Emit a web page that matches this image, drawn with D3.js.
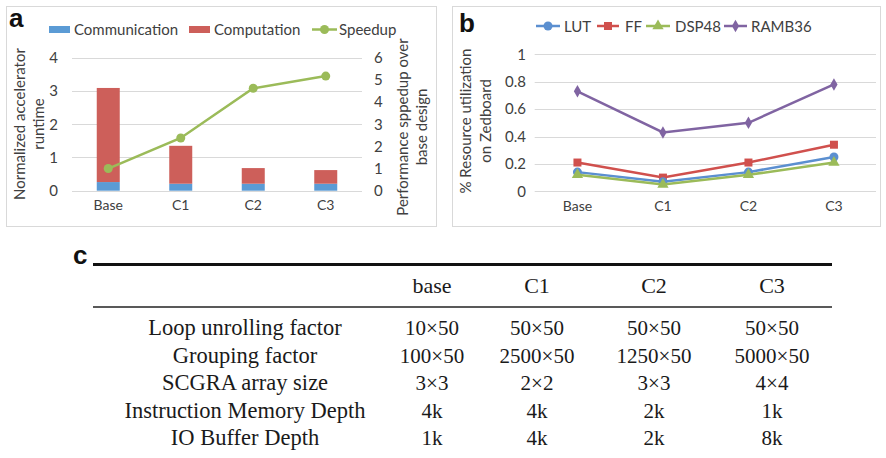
<!DOCTYPE html>
<html>
<head>
<meta charset="utf-8">
<script src="https://cdn.jsdelivr.net/npm/d3@7/dist/d3.min.js"></script>
<style>
  html, body { margin: 0; padding: 0; background: #fff; }
  svg { display: block; }
</style>
</head>
<body>
<svg id="fig" width="886" height="458"></svg>
<script>
// ---- data ----
const categories = ["Base", "C1", "C2", "C3"];
const communication = [0.26, 0.21, 0.21, 0.21];
const computation = [2.83, 1.14, 0.47, 0.41];
const speedup = [1.0, 2.38, 4.62, 5.17];
const runtimeTicks = [0, 1, 2, 3, 4];
const speedupTicks = [0, 1, 2, 3, 4, 5, 6];

const lut = [0.14, 0.07, 0.14, 0.25];
const ff = [0.21, 0.10, 0.21, 0.34];
const dsp48 = [0.12, 0.05, 0.12, 0.21];
const ramb36 = [0.73, 0.43, 0.50, 0.78];
const utilTicks = [0, 0.2, 0.4, 0.6, 0.8, 1];

const tableCols = ["base", "C1", "C2", "C3"];
const tableRowLabels = ["Loop unrolling factor", "Grouping factor", "SCGRA array size",
  "Instruction Memory Depth", "IO Buffer Depth"];
const loopUnrolling = ["10×50", "50×50", "50×50", "50×50"];
const grouping = ["100×50", "2500×50", "1250×50", "5000×50"];
const arraySize = ["3×3", "2×2", "3×3", "4×4"];
const instrDepth = ["4k", "4k", "2k", "1k"];
const ioDepth = ["1k", "4k", "2k", "8k"];

// ---- styles ----
const TXT = "#404040", GRID = "#d9d9d9";
const FONT = "Lato, 'Liberation Sans', sans-serif";
const C_BLUE = "#5b9bd5", C_RED = "#cd5f5a", C_GREEN = "#9bbb59", C_PURPLE = "#8064a2", C_FF = "#d0504d", C_LUT = "#5b8fd0";

const svg = d3.select("#fig");

function panelFrame(x0, y0, x1, y1) {
  svg.append("rect").attr("x", x0 + 0.5).attr("y", y0 + 0.5)
    .attr("width", x1 - x0).attr("height", y1 - y0)
    .attr("fill", "#fff").attr("stroke", GRID).attr("stroke-width", 1);
}

function panelLetter(x, y, t) {
  svg.append("text").attr("x", x).attr("y", y).text(t)
    .attr("font-family", "'Liberation Sans', Arial, sans-serif")
    .attr("font-weight", "bold").attr("font-size", 26).attr("fill", "#111");
}

function gridlines(g, y, ticks, x0, x1) {
  g.append("g").selectAll("line").data(ticks).join("line")
    .attr("x1", x0).attr("x2", x1)
    .attr("y1", d => Math.round(y(d)) + 0.5).attr("y2", d => Math.round(y(d)) + 0.5)
    .attr("stroke", GRID).attr("stroke-width", 1);
}

function styleAxis(sel, size) {
  sel.select(".domain").remove();
  sel.selectAll("text").attr("fill", TXT).attr("font-family", FONT).attr("font-size", size);
}

// ================= panel a =================
panelFrame(6, 6, 436, 226);
panelLetter(9, 27, "a");

const xa = d3.scaleBand().domain(categories).range([72, 362]);
const ya = d3.scaleLinear().domain([0, 4]).range([190.7, 57.7]);
const ys = d3.scaleLinear().domain([0, 6]).range([190.7, 57.7]);
const ga = svg.append("g");

gridlines(ga, ya, runtimeTicks, 72, 362);

const barW = 23;
const stackData = categories.map((c, i) => ({ c, comm: communication[i], comp: computation[i] }));
ga.append("g").selectAll("rect").data(stackData).join("rect")
  .attr("x", d => xa(d.c) + xa.bandwidth() / 2 - barW / 2).attr("width", barW)
  .attr("y", d => ya(d.comm)).attr("height", d => ya(0) - ya(d.comm))
  .attr("fill", C_BLUE);
ga.append("g").selectAll("rect").data(stackData).join("rect")
  .attr("x", d => xa(d.c) + xa.bandwidth() / 2 - barW / 2).attr("width", barW)
  .attr("y", d => ya(d.comm + d.comp)).attr("height", d => ya(d.comm) - ya(d.comm + d.comp))
  .attr("fill", C_RED);

const spd = categories.map((c, i) => ({ c, v: speedup[i] }));
ga.append("path").datum(spd)
  .attr("d", d3.line().x(d => xa(d.c) + xa.bandwidth() / 2).y(d => ys(d.v)))
  .attr("fill", "none").attr("stroke", C_GREEN).attr("stroke-width", 2.5);
ga.append("g").selectAll("circle").data(spd).join("circle")
  .attr("cx", d => xa(d.c) + xa.bandwidth() / 2).attr("cy", d => ys(d.v))
  .attr("r", 4.5).attr("fill", C_GREEN);

ga.append("g").attr("transform", "translate(58,0)")
  .call(d3.axisLeft(ya).tickValues(runtimeTicks).tickSize(0).tickPadding(0).tickFormat(d3.format("d")))
  .call(s => styleAxis(s, 15));
ga.append("g").attr("transform", "translate(374,0)")
  .call(d3.axisRight(ys).tickValues(speedupTicks).tickSize(0).tickPadding(0).tickFormat(d3.format("d")))
  .call(s => styleAxis(s, 15));
ga.append("g").attr("transform", "translate(0,200)")
  .call(d3.axisBottom(xa).tickSize(0).tickPadding(0))
  .call(s => styleAxis(s, 14));

// axis titles
function vTitle(g, x, y, lines, gap) {
  const t = g.append("text").attr("transform", `translate(${x},${y}) rotate(-90)`)
    .attr("text-anchor", "middle").attr("fill", TXT).attr("font-family", FONT).attr("font-size", 15);
  lines.forEach((l, i) => t.append("tspan").attr("x", 0).attr("dy", i === 0 ? 0 : gap).text(l));
}
vTitle(ga, 25, 124, ["Normalized accelerator", "runtime"], 19);
vTitle(ga, 408, 127, ["Performance sppedup over", "base design"], 19);

// legend a
const legA = ga.append("g").attr("font-family", FONT).attr("font-size", 15).attr("fill", TXT);
legA.append("rect").attr("x", 49).attr("y", 26).attr("width", 21).attr("height", 7).attr("fill", C_BLUE);
legA.append("text").attr("x", 74).attr("y", 34.5).text("Communication");
legA.append("rect").attr("x", 189).attr("y", 26).attr("width", 21).attr("height", 7).attr("fill", C_RED);
legA.append("text").attr("x", 214).attr("y", 34.5).text("Computation");
legA.append("line").attr("x1", 312).attr("x2", 337).attr("y1", 29.5).attr("y2", 29.5)
  .attr("stroke", C_GREEN).attr("stroke-width", 2.5);
legA.append("circle").attr("cx", 324.5).attr("cy", 29.5).attr("r", 4.5).attr("fill", C_GREEN);
legA.append("text").attr("x", 339).attr("y", 34.5).text("Speedup");

// ================= panel b =================
panelFrame(452, 6, 880, 226);
panelLetter(459, 32, "b");

const xb = d3.scaleBand().domain(categories).range([534.7, 876.7]);
const yb = d3.scaleLinear().domain([0, 1]).range([191.3, 54.3]);
const gb = svg.append("g");
gridlines(gb, yb, utilTicks, 534.7, 876);

const seriesB = [
  { name: "LUT", vals: lut, color: C_LUT, sym: d3.symbolCircle, size: 64 },
  { name: "FF", vals: ff, color: C_FF, sym: d3.symbolSquare, size: 64 },
  { name: "DSP48", vals: dsp48, color: C_GREEN, sym: d3.symbolTriangle, size: 55 },
  { name: "RAMB36", vals: ramb36, color: C_PURPLE, sym: d3.symbolDiamond, size: 45 }
];
const lineB = d3.line().x(d => xb(d.c) + xb.bandwidth() / 2).y(d => yb(d.v));
// draw order: purple and red behind, green on top of blue
[seriesB[3], seriesB[1], seriesB[0], seriesB[2]].forEach(s => {
  const pts = categories.map((c, i) => ({ c, v: s.vals[i] }));
  gb.append("path").datum(pts).attr("d", lineB)
    .attr("fill", "none").attr("stroke", s.color).attr("stroke-width", 2.5);
  gb.append("g").selectAll("path").data(pts).join("path")
    .attr("transform", d => `translate(${xb(d.c) + xb.bandwidth() / 2},${yb(d.v)})`)
    .attr("d", d3.symbol().type(s.sym).size(s.size)).attr("fill", s.color);
});

gb.append("g").attr("transform", "translate(526,0)")
  .call(d3.axisLeft(yb).tickValues(utilTicks).tickSize(0).tickPadding(0).tickFormat(d => d3.format("")(+d.toFixed(1))))
  .call(s => styleAxis(s, 15));
gb.append("g").attr("transform", "translate(0,201)")
  .call(d3.axisBottom(xb).tickSize(0).tickPadding(0))
  .call(s => styleAxis(s, 14));
vTitle(gb, 471, 121, ["% Resource utilization", "on Zedboard"], 20);

// legend b
const legB = gb.append("g").attr("font-family", FONT).attr("font-size", 15).attr("fill", TXT);
const legBx = [[536, 560, 564], [597, 619, 625], [646, 670, 675], [724, 747, 751]];
seriesB.forEach((s, i) => {
  const [a, b, tx] = legBx[i];
  legB.append("line").attr("x1", a).attr("x2", b).attr("y1", 26).attr("y2", 26)
    .attr("stroke", s.color).attr("stroke-width", 2.5);
  legB.append("path").attr("transform", `translate(${(a + b) / 2},26)`)
    .attr("d", d3.symbol().type(s.sym).size(s.size)).attr("fill", s.color);
  legB.append("text").attr("x", tx).attr("y", 31.5).text(s.name);
});

// ================= panel c (table) =================
panelLetter(73, 264, "c");
const gc = svg.append("g").attr("font-family", "'Liberation Serif', 'Times New Roman', serif")
  .attr("font-size", 22).attr("fill", "#1a1a1a");
gc.append("line").attr("x1", 93).attr("x2", 832).attr("y1", 264.5).attr("y2", 264.5)
  .attr("stroke", "#111").attr("stroke-width", 3);
gc.append("line").attr("x1", 93).attr("x2", 832).attr("y1", 307).attr("y2", 307)
  .attr("stroke", "#222").attr("stroke-width", 1.4);

const colX = d3.scaleOrdinal().domain(tableCols).range([432, 537, 654, 772]);
const rowY = d3.scalePoint().domain(tableRowLabels).range([335, 445]);
gc.append("g").selectAll("text").data(tableCols).join("text")
  .attr("x", d => colX(d)).attr("y", 293).attr("text-anchor", "middle").text(d => d);
gc.append("g").selectAll("text").data(tableRowLabels).join("text")
  .attr("x", 245).attr("y", d => rowY(d)).attr("text-anchor", "middle")
  .attr("font-size", 22.5).text(d => d);
const tableValues = [loopUnrolling, grouping, arraySize, instrDepth, ioDepth];
tableValues.forEach((row, r) => {
  gc.append("g").selectAll("text").data(row).join("text")
    .attr("x", (d, i) => colX(tableCols[i])).attr("y", rowY(tableRowLabels[r]))
    .attr("text-anchor", "middle").attr("font-size", 21).text(d => d);
});
</script>
</body>
</html>
